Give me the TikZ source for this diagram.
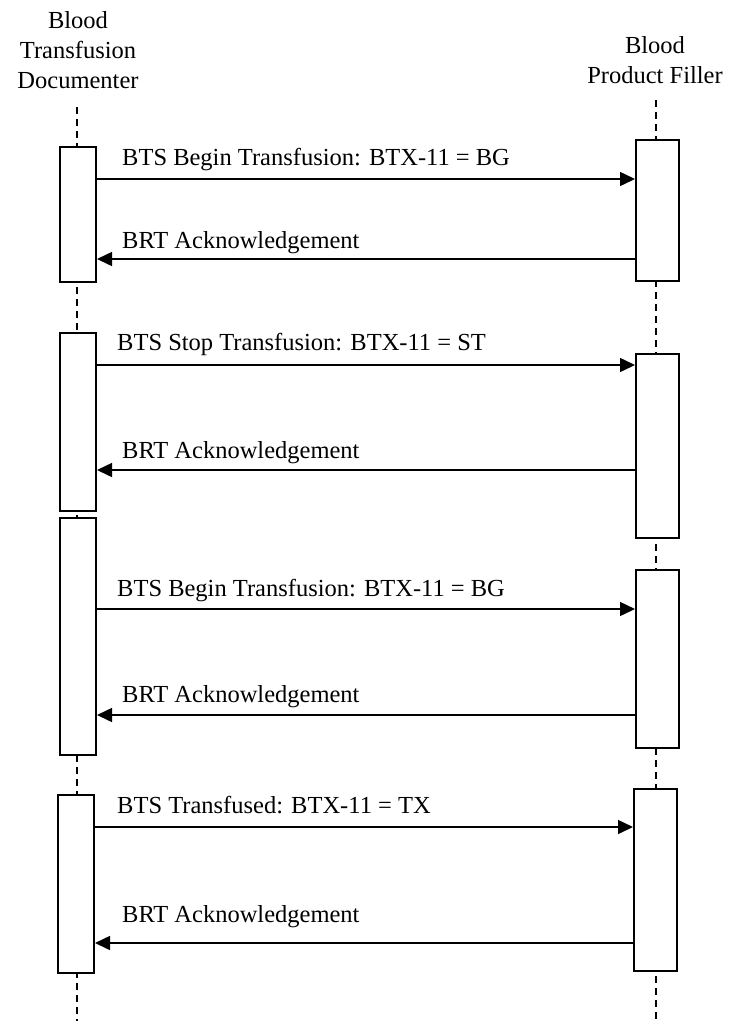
\documentclass[tikz,border=0pt]{standalone}
\usepackage{fontspec}
\setmainfont{Liberation Serif}
\usetikzlibrary{arrows.meta}
\tikzstyle{act}=[draw, line width=2pt, fill=white, inner sep=0]
\tikzstyle{life}=[line width=2pt, dash pattern=on 7pt off 5pt]
\tikzstyle{msg}=[line width=1.5pt, -{Triangle[length=15pt,width=14pt]}]
\tikzstyle{lbl}=[anchor=base west, inner sep=0]

\begin{document}
\begin{tikzpicture}[x=1pt,y=-1pt,font=\fontsize{24.5}{30}\selectfont]
\useasboundingbox (0,0) rectangle (732,1021);
% participants
\node at (78,50)[align=center](doc){Blood\\Transfusion\\Documenter};
\node at (655,60)[align=center](fil){Blood\\Product Filler};
\coordinate (dtop) at (77,107);
\coordinate (dend) at (77,1021);
\coordinate (ftop) at (656,100);
\coordinate (fend) at (656,1021);
\draw[life] (dtop)--(dend);
\draw[life] (ftop)--(fend);
% activations
\node at (78,214.5)[act, minimum width=36, minimum height=135](d1){};
\node at (78,422)[act, minimum width=36, minimum height=178](d2){};
\node at (78,636.5)[act, minimum width=36, minimum height=237](d3){};
\node at (76,884)[act, minimum width=36, minimum height=178](d4){};
\node at (657.5,210.5)[act, minimum width=43, minimum height=141](f1){};
\node at (657.5,446)[act, minimum width=43, minimum height=184](f2){};
\node at (657.5,659)[act, minimum width=43, minimum height=178](f3){};
\node at (655.5,880)[act, minimum width=43, minimum height=182](f4){};
% messages
\draw[msg] (d1.east |- 0,179)--(f1.west |- 0,179);
\draw[msg] (f1.west |- 0,259)--(d1.east |- 0,259);
\draw[msg] (d2.east |- 0,365)--(f2.west |- 0,365);
\draw[msg] (f2.west |- 0,470)--(d2.east |- 0,470);
\draw[msg] (d3.east |- 0,609)--(f3.west |- 0,609);
\draw[msg] (f3.west |- 0,715)--(d3.east |- 0,715);
\draw[msg] (d4.east |- 0,827)--(f4.west |- 0,827);
\draw[msg] (f4.west |- 0,943)--(d4.east |- 0,943);
\node at (122,165)[lbl](t1){BTS Begin Transfusion: BTX-11 = BG};
\node at (122,248)[lbl](a1){BRT Acknowledgement};
\node at (117,350)[lbl](t2){BTS Stop Transfusion: BTX-11 = ST};
\node at (122,458)[lbl](a2){BRT Acknowledgement};
\node at (117,596)[lbl](t3){BTS Begin Transfusion: BTX-11 = BG};
\node at (122,702)[lbl](a3){BRT Acknowledgement};
\node at (117,813)[lbl](t4){BTS Transfused: BTX-11 = TX};
\node at (122,922)[lbl](a4){BRT Acknowledgement};
\end{tikzpicture}
\end{document}
